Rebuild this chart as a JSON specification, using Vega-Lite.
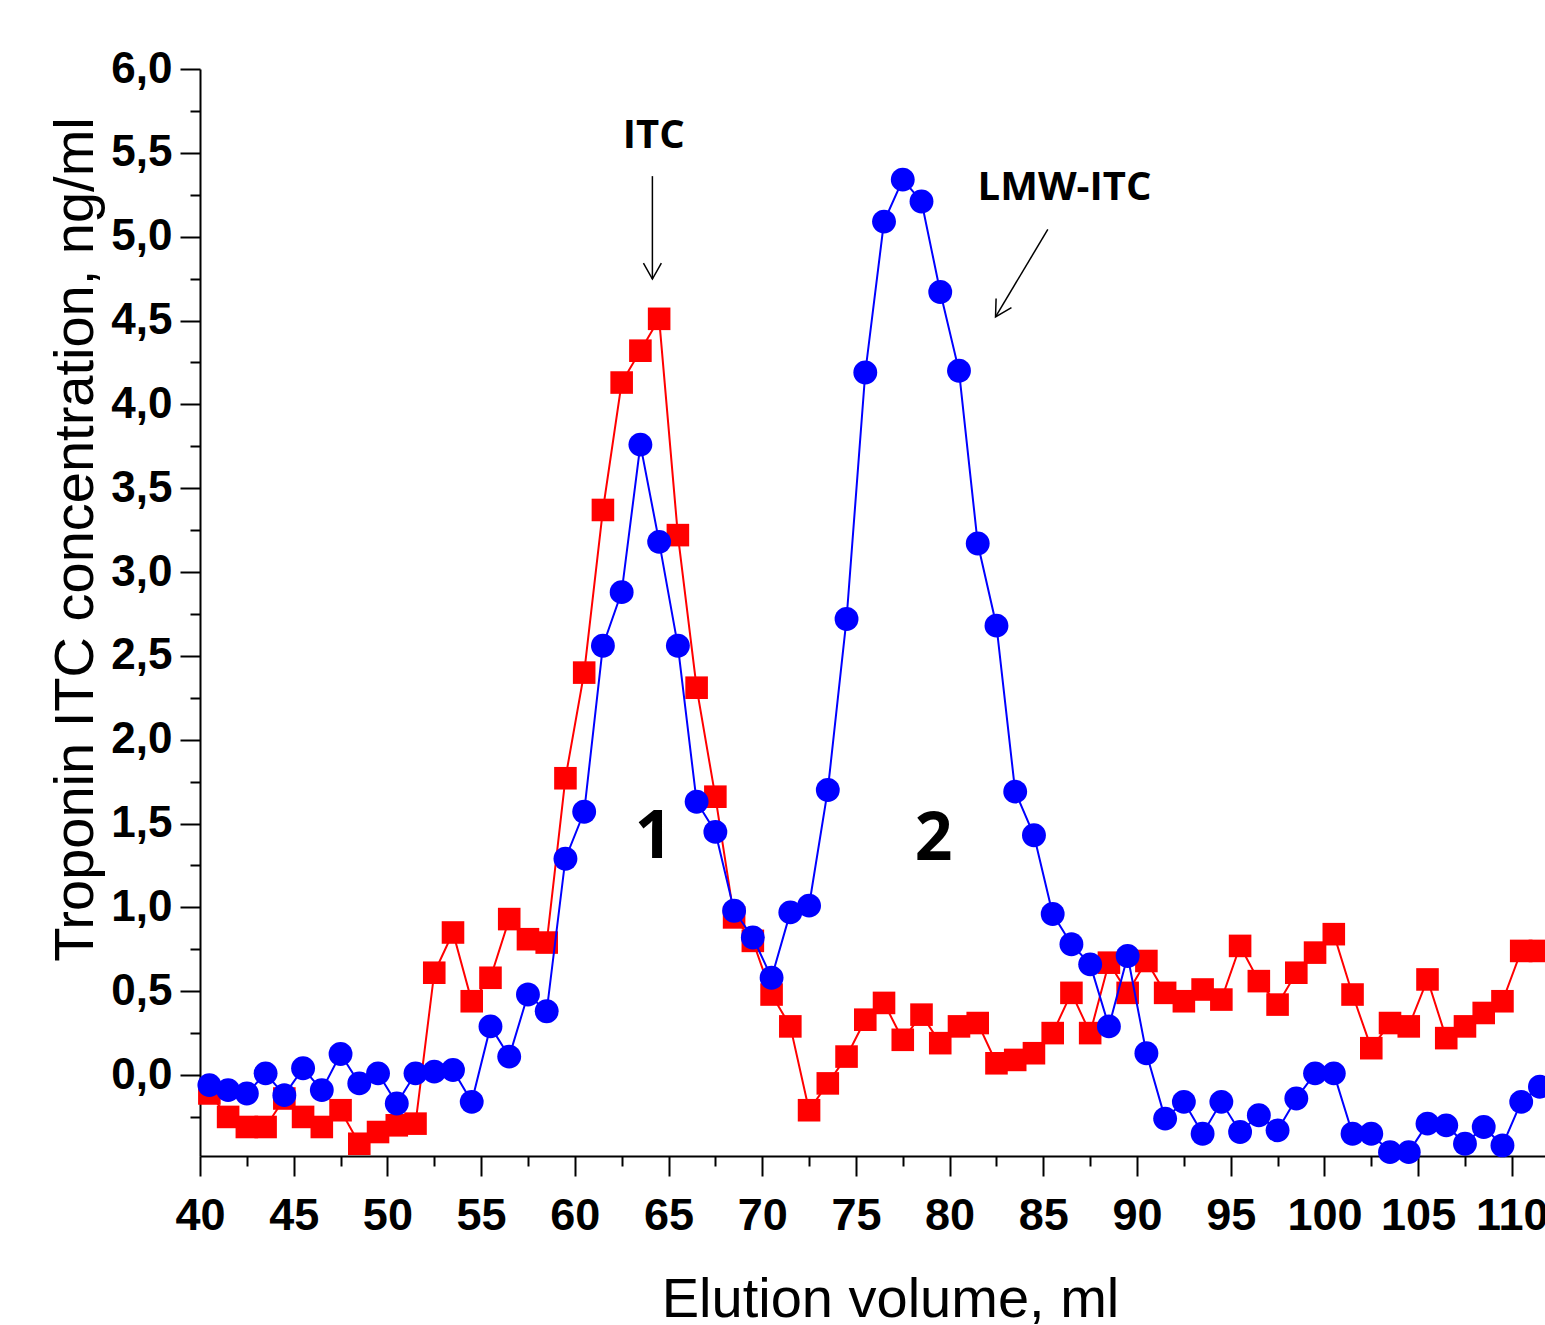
{
  "$schema": "https://vega.github.io/schema/vega-lite/v6.json",
  "width": 1345,
  "height": 1087,
  "autosize": {"type": "none"},
  "padding": {"left": 200, "top": 69, "right": 0, "bottom": 169},
  "background": "white",
  "config": {
    "view": {"stroke": null},
    "axis": {"grid": false, "domainColor": "black", "tickColor": "black", "labelColor": "black", "titleColor": "black"}
  },
  "datasets": {
    "fractions": [
      {"vol": 40.5, "conc": -0.06, "series": "blue"},
      {"vol": 41.5, "conc": -0.09, "series": "blue"},
      {"vol": 42.5, "conc": -0.11, "series": "blue"},
      {"vol": 43.5, "conc": 0.01, "series": "blue"},
      {"vol": 44.5, "conc": -0.12, "series": "blue"},
      {"vol": 45.5, "conc": 0.04, "series": "blue"},
      {"vol": 46.5, "conc": -0.09, "series": "blue"},
      {"vol": 47.5, "conc": 0.125, "series": "blue"},
      {"vol": 48.5, "conc": -0.05, "series": "blue"},
      {"vol": 49.5, "conc": 0.01, "series": "blue"},
      {"vol": 50.5, "conc": -0.17, "series": "blue"},
      {"vol": 51.5, "conc": 0.01, "series": "blue"},
      {"vol": 52.5, "conc": 0.02, "series": "blue"},
      {"vol": 53.5, "conc": 0.03, "series": "blue"},
      {"vol": 54.5, "conc": -0.16, "series": "blue"},
      {"vol": 55.5, "conc": 0.29, "series": "blue"},
      {"vol": 56.5, "conc": 0.11, "series": "blue"},
      {"vol": 57.5, "conc": 0.48, "series": "blue"},
      {"vol": 58.5, "conc": 0.38, "series": "blue"},
      {"vol": 59.5, "conc": 1.29, "series": "blue"},
      {"vol": 60.5, "conc": 1.57, "series": "blue"},
      {"vol": 61.5, "conc": 2.56, "series": "blue"},
      {"vol": 62.5, "conc": 2.88, "series": "blue"},
      {"vol": 63.5, "conc": 3.76, "series": "blue"},
      {"vol": 64.5, "conc": 3.18, "series": "blue"},
      {"vol": 65.5, "conc": 2.56, "series": "blue"},
      {"vol": 66.5, "conc": 1.63, "series": "blue"},
      {"vol": 67.5, "conc": 1.45, "series": "blue"},
      {"vol": 68.5, "conc": 0.98, "series": "blue"},
      {"vol": 69.5, "conc": 0.82, "series": "blue"},
      {"vol": 70.5, "conc": 0.58, "series": "blue"},
      {"vol": 71.5, "conc": 0.97, "series": "blue"},
      {"vol": 72.5, "conc": 1.01, "series": "blue"},
      {"vol": 73.5, "conc": 1.70, "series": "blue"},
      {"vol": 74.5, "conc": 2.72, "series": "blue"},
      {"vol": 75.5, "conc": 4.19, "series": "blue"},
      {"vol": 76.5, "conc": 5.09, "series": "blue"},
      {"vol": 77.5, "conc": 5.34, "series": "blue"},
      {"vol": 78.5, "conc": 5.21, "series": "blue"},
      {"vol": 79.5, "conc": 4.67, "series": "blue"},
      {"vol": 80.5, "conc": 4.20, "series": "blue"},
      {"vol": 81.5, "conc": 3.17, "series": "blue"},
      {"vol": 82.5, "conc": 2.68, "series": "blue"},
      {"vol": 83.5, "conc": 1.69, "series": "blue"},
      {"vol": 84.5, "conc": 1.43, "series": "blue"},
      {"vol": 85.5, "conc": 0.96, "series": "blue"},
      {"vol": 86.5, "conc": 0.78, "series": "blue"},
      {"vol": 87.5, "conc": 0.66, "series": "blue"},
      {"vol": 88.5, "conc": 0.29, "series": "blue"},
      {"vol": 89.5, "conc": 0.71, "series": "blue"},
      {"vol": 90.5, "conc": 0.13, "series": "blue"},
      {"vol": 91.5, "conc": -0.26, "series": "blue"},
      {"vol": 92.5, "conc": -0.16, "series": "blue"},
      {"vol": 93.5, "conc": -0.35, "series": "blue"},
      {"vol": 94.5, "conc": -0.16, "series": "blue"},
      {"vol": 95.5, "conc": -0.34, "series": "blue"},
      {"vol": 96.5, "conc": -0.24, "series": "blue"},
      {"vol": 97.5, "conc": -0.33, "series": "blue"},
      {"vol": 98.5, "conc": -0.14, "series": "blue"},
      {"vol": 99.5, "conc": 0.01, "series": "blue"},
      {"vol": 100.5, "conc": 0.01, "series": "blue"},
      {"vol": 101.5, "conc": -0.35, "series": "blue"},
      {"vol": 102.5, "conc": -0.35, "series": "blue"},
      {"vol": 103.5, "conc": -0.46, "series": "blue"},
      {"vol": 104.5, "conc": -0.46, "series": "blue"},
      {"vol": 105.5, "conc": -0.29, "series": "blue"},
      {"vol": 106.5, "conc": -0.30, "series": "blue"},
      {"vol": 107.5, "conc": -0.41, "series": "blue"},
      {"vol": 108.5, "conc": -0.31, "series": "blue"},
      {"vol": 109.5, "conc": -0.42, "series": "blue"},
      {"vol": 110.5, "conc": -0.16, "series": "blue"},
      {"vol": 111.5, "conc": -0.07, "series": "blue"},
      {"vol": 40.5, "conc": -0.11, "series": "red"},
      {"vol": 41.5, "conc": -0.25, "series": "red"},
      {"vol": 42.5, "conc": -0.31, "series": "red"},
      {"vol": 43.5, "conc": -0.31, "series": "red"},
      {"vol": 44.5, "conc": -0.14, "series": "red"},
      {"vol": 45.5, "conc": -0.25, "series": "red"},
      {"vol": 46.5, "conc": -0.31, "series": "red"},
      {"vol": 47.5, "conc": -0.21, "series": "red"},
      {"vol": 48.5, "conc": -0.41, "series": "red"},
      {"vol": 49.5, "conc": -0.34, "series": "red"},
      {"vol": 50.5, "conc": -0.30, "series": "red"},
      {"vol": 51.5, "conc": -0.29, "series": "red"},
      {"vol": 52.5, "conc": 0.61, "series": "red"},
      {"vol": 53.5, "conc": 0.85, "series": "red"},
      {"vol": 54.5, "conc": 0.44, "series": "red"},
      {"vol": 55.5, "conc": 0.58, "series": "red"},
      {"vol": 56.5, "conc": 0.93, "series": "red"},
      {"vol": 57.5, "conc": 0.81, "series": "red"},
      {"vol": 58.5, "conc": 0.79, "series": "red"},
      {"vol": 59.5, "conc": 1.77, "series": "red"},
      {"vol": 60.5, "conc": 2.40, "series": "red"},
      {"vol": 61.5, "conc": 3.37, "series": "red"},
      {"vol": 62.5, "conc": 4.13, "series": "red"},
      {"vol": 63.5, "conc": 4.32, "series": "red"},
      {"vol": 64.5, "conc": 4.51, "series": "red"},
      {"vol": 65.5, "conc": 3.22, "series": "red"},
      {"vol": 66.5, "conc": 2.31, "series": "red"},
      {"vol": 67.5, "conc": 1.66, "series": "red"},
      {"vol": 68.5, "conc": 0.94, "series": "red"},
      {"vol": 69.5, "conc": 0.80, "series": "red"},
      {"vol": 70.5, "conc": 0.48, "series": "red"},
      {"vol": 71.5, "conc": 0.29, "series": "red"},
      {"vol": 72.5, "conc": -0.21, "series": "red"},
      {"vol": 73.5, "conc": -0.05, "series": "red"},
      {"vol": 74.5, "conc": 0.11, "series": "red"},
      {"vol": 75.5, "conc": 0.33, "series": "red"},
      {"vol": 76.5, "conc": 0.43, "series": "red"},
      {"vol": 77.5, "conc": 0.21, "series": "red"},
      {"vol": 78.5, "conc": 0.36, "series": "red"},
      {"vol": 79.5, "conc": 0.19, "series": "red"},
      {"vol": 80.5, "conc": 0.29, "series": "red"},
      {"vol": 81.5, "conc": 0.31, "series": "red"},
      {"vol": 82.5, "conc": 0.07, "series": "red"},
      {"vol": 83.5, "conc": 0.09, "series": "red"},
      {"vol": 84.5, "conc": 0.13, "series": "red"},
      {"vol": 85.5, "conc": 0.25, "series": "red"},
      {"vol": 86.5, "conc": 0.49, "series": "red"},
      {"vol": 87.5, "conc": 0.25, "series": "red"},
      {"vol": 88.5, "conc": 0.67, "series": "red"},
      {"vol": 89.5, "conc": 0.49, "series": "red"},
      {"vol": 90.5, "conc": 0.68, "series": "red"},
      {"vol": 91.5, "conc": 0.49, "series": "red"},
      {"vol": 92.5, "conc": 0.44, "series": "red"},
      {"vol": 93.5, "conc": 0.51, "series": "red"},
      {"vol": 94.5, "conc": 0.45, "series": "red"},
      {"vol": 95.5, "conc": 0.77, "series": "red"},
      {"vol": 96.5, "conc": 0.56, "series": "red"},
      {"vol": 97.5, "conc": 0.42, "series": "red"},
      {"vol": 98.5, "conc": 0.61, "series": "red"},
      {"vol": 99.5, "conc": 0.73, "series": "red"},
      {"vol": 100.5, "conc": 0.84, "series": "red"},
      {"vol": 101.5, "conc": 0.48, "series": "red"},
      {"vol": 102.5, "conc": 0.16, "series": "red"},
      {"vol": 103.5, "conc": 0.31, "series": "red"},
      {"vol": 104.5, "conc": 0.29, "series": "red"},
      {"vol": 105.5, "conc": 0.57, "series": "red"},
      {"vol": 106.5, "conc": 0.22, "series": "red"},
      {"vol": 107.5, "conc": 0.29, "series": "red"},
      {"vol": 108.5, "conc": 0.37, "series": "red"},
      {"vol": 109.5, "conc": 0.44, "series": "red"},
      {"vol": 110.5, "conc": 0.74, "series": "red"},
      {"vol": 111.5, "conc": 0.74, "series": "red"}
    ],
    "notes": [
      {"vol": 64.21, "conc": 5.528, "text": "ITC", "kind": "name"},
      {"vol": 86.13, "conc": 5.218, "text": "LMW-ITC", "kind": "name"},
      {"vol": 64.21, "conc": 1.294, "text": "1", "kind": "peak"},
      {"vol": 79.15, "conc": 1.282, "text": "2", "kind": "peak"}
    ],
    "arrows": [
      {"id": "ITC", "vol": 64.14, "conc": 5.361, "vol2": 64.14, "conc2": 4.747},
      {"id": "LMW-ITC", "vol": 85.24, "conc": 5.043, "vol2": 82.45, "conc2": 4.522}
    ]
  },
  "layer": [
    {
      "data": {"name": "fractions"},
      "transform": [{"filter": "datum.series === 'red'"}],
      "mark": {"type": "line", "color": "#ff0000", "strokeWidth": 2},
      "encoding": {
        "x": {
          "field": "vol", "type": "quantitative",
          "scale": {"domain": [40, 111.77], "nice": false, "zero": false},
          "axis": {
            "values": [40, 42.5, 45, 47.5, 50, 52.5, 55, 57.5, 60, 62.5, 65, 67.5, 70, 72.5, 75, 77.5, 80, 82.5, 85, 87.5, 90, 92.5, 95, 97.5, 100, 102.5, 105, 107.5, 110],
            "labelExpr": "datum.value % 5 === 0 ? format(datum.value, 'd') : ''",
            "tickSize": {"condition": {"test": "datum.value % 5 === 0", "value": 20}, "value": 10},
            "tickWidth": 2,
            "domainWidth": 2,
            "labelOverlap": false,
            "labelFlush": false,
            "labelFont": "Liberation Sans",
            "labelFontWeight": "bold",
            "labelFontSize": 45,
            "labelPadding": 17,
            "title": "Elution volume, ml",
            "titleFont": "Liberation Sans",
            "titleFontWeight": "normal",
            "titleFontSize": 56,
            "titleX": 690,
            "titleY": 160,
            "titleAlign": "center",
            "titleBaseline": "alphabetic"
          }
        },
        "y": {
          "field": "conc", "type": "quantitative",
          "scale": {"domain": [-0.483, 6], "nice": false, "zero": false},
          "axis": {
            "values": [-0.25, 0, 0.25, 0.5, 0.75, 1, 1.25, 1.5, 1.75, 2, 2.25, 2.5, 2.75, 3, 3.25, 3.5, 3.75, 4, 4.25, 4.5, 4.75, 5, 5.25, 5.5, 5.75, 6],
            "labelExpr": "(datum.value * 4) % 2 === 0 ? replace(format(datum.value, '.1f'), '.', ',') : ''",
            "tickSize": {"condition": {"test": "(datum.value * 4) % 2 === 0", "value": 20}, "value": 10},
            "tickWidth": 2,
            "domainWidth": 2,
            "labelOverlap": false,
            "labelFlush": false,
            "labelFont": "Liberation Sans",
            "labelFontWeight": "bold",
            "labelFontSize": 44,
            "labelPadding": 8,
            "title": "Troponin ITC concentration, ng/ml",
            "titleFont": "Liberation Sans",
            "titleFontWeight": "normal",
            "titleFontSize": 56,
            "titleAngle": -90,
            "titleX": -108,
            "titleY": 470,
            "titleAlign": "center",
            "titleBaseline": "alphabetic"
          }
        }
      }
    },
    {
      "data": {"name": "fractions"},
      "transform": [{"filter": "datum.series === 'red'"}],
      "mark": {"type": "point", "shape": "square", "filled": true, "color": "#ff0000", "opacity": 1, "size": 510},
      "encoding": {
        "x": {"field": "vol", "type": "quantitative"},
        "y": {"field": "conc", "type": "quantitative"}
      }
    },
    {
      "data": {"name": "fractions"},
      "transform": [{"filter": "datum.series === 'blue'"}],
      "mark": {"type": "line", "color": "#0000ff", "strokeWidth": 2},
      "encoding": {
        "x": {"field": "vol", "type": "quantitative"},
        "y": {"field": "conc", "type": "quantitative"}
      }
    },
    {
      "data": {"name": "fractions"},
      "transform": [{"filter": "datum.series === 'blue'"}],
      "mark": {"type": "point", "shape": "circle", "filled": true, "color": "#0000ff", "opacity": 1, "size": 570},
      "encoding": {
        "x": {"field": "vol", "type": "quantitative"},
        "y": {"field": "conc", "type": "quantitative"}
      }
    },
    {
      "data": {"name": "arrows"},
      "mark": {"type": "rule", "color": "black", "strokeWidth": 1.5},
      "encoding": {
        "x": {"field": "vol", "type": "quantitative"},
        "y": {"field": "conc", "type": "quantitative"},
        "x2": {"field": "vol2"},
        "y2": {"field": "conc2"}
      }
    },
    {
      "data": {"name": "arrows"},
      "transform": [{"filter": "datum.id === 'ITC'"}],
      "mark": {"type": "point", "shape": "M-0.56,-1L0,0L0.56,-1", "filled": false, "stroke": "black", "strokeWidth": 1.5, "opacity": 1, "size": 1024, "angle": 0},
      "encoding": {
        "x": {"field": "vol2", "type": "quantitative"},
        "y": {"field": "conc2", "type": "quantitative"}
      }
    },
    {
      "data": {"name": "arrows"},
      "transform": [{"filter": "datum.id === 'LMW-ITC'"}],
      "mark": {"type": "point", "shape": "M-0.56,-1L0,0L0.56,-1", "filled": false, "stroke": "black", "strokeWidth": 1.5, "opacity": 1, "size": 1024, "angle": 31},
      "encoding": {
        "x": {"field": "vol2", "type": "quantitative"},
        "y": {"field": "conc2", "type": "quantitative"}
      }
    },
    {
      "data": {"name": "notes"},
      "transform": [{"filter": "datum.kind === 'name'"}],
      "mark": {"type": "text", "font": "Open Sans", "fontWeight": "bold", "fontSize": 40, "align": "center", "baseline": "alphabetic", "color": "black"},
      "encoding": {
        "x": {"field": "vol", "type": "quantitative"},
        "y": {"field": "conc", "type": "quantitative"},
        "text": {"field": "text"}
      }
    },
    {
      "data": {"name": "notes"},
      "transform": [{"filter": "datum.kind === 'peak'"}],
      "mark": {"type": "text", "font": "Open Sans", "fontWeight": "bold", "fontSize": 66, "align": "center", "baseline": "alphabetic", "color": "black"},
      "encoding": {
        "x": {"field": "vol", "type": "quantitative"},
        "y": {"field": "conc", "type": "quantitative"},
        "text": {"field": "text"}
      }
    }
  ]
}
